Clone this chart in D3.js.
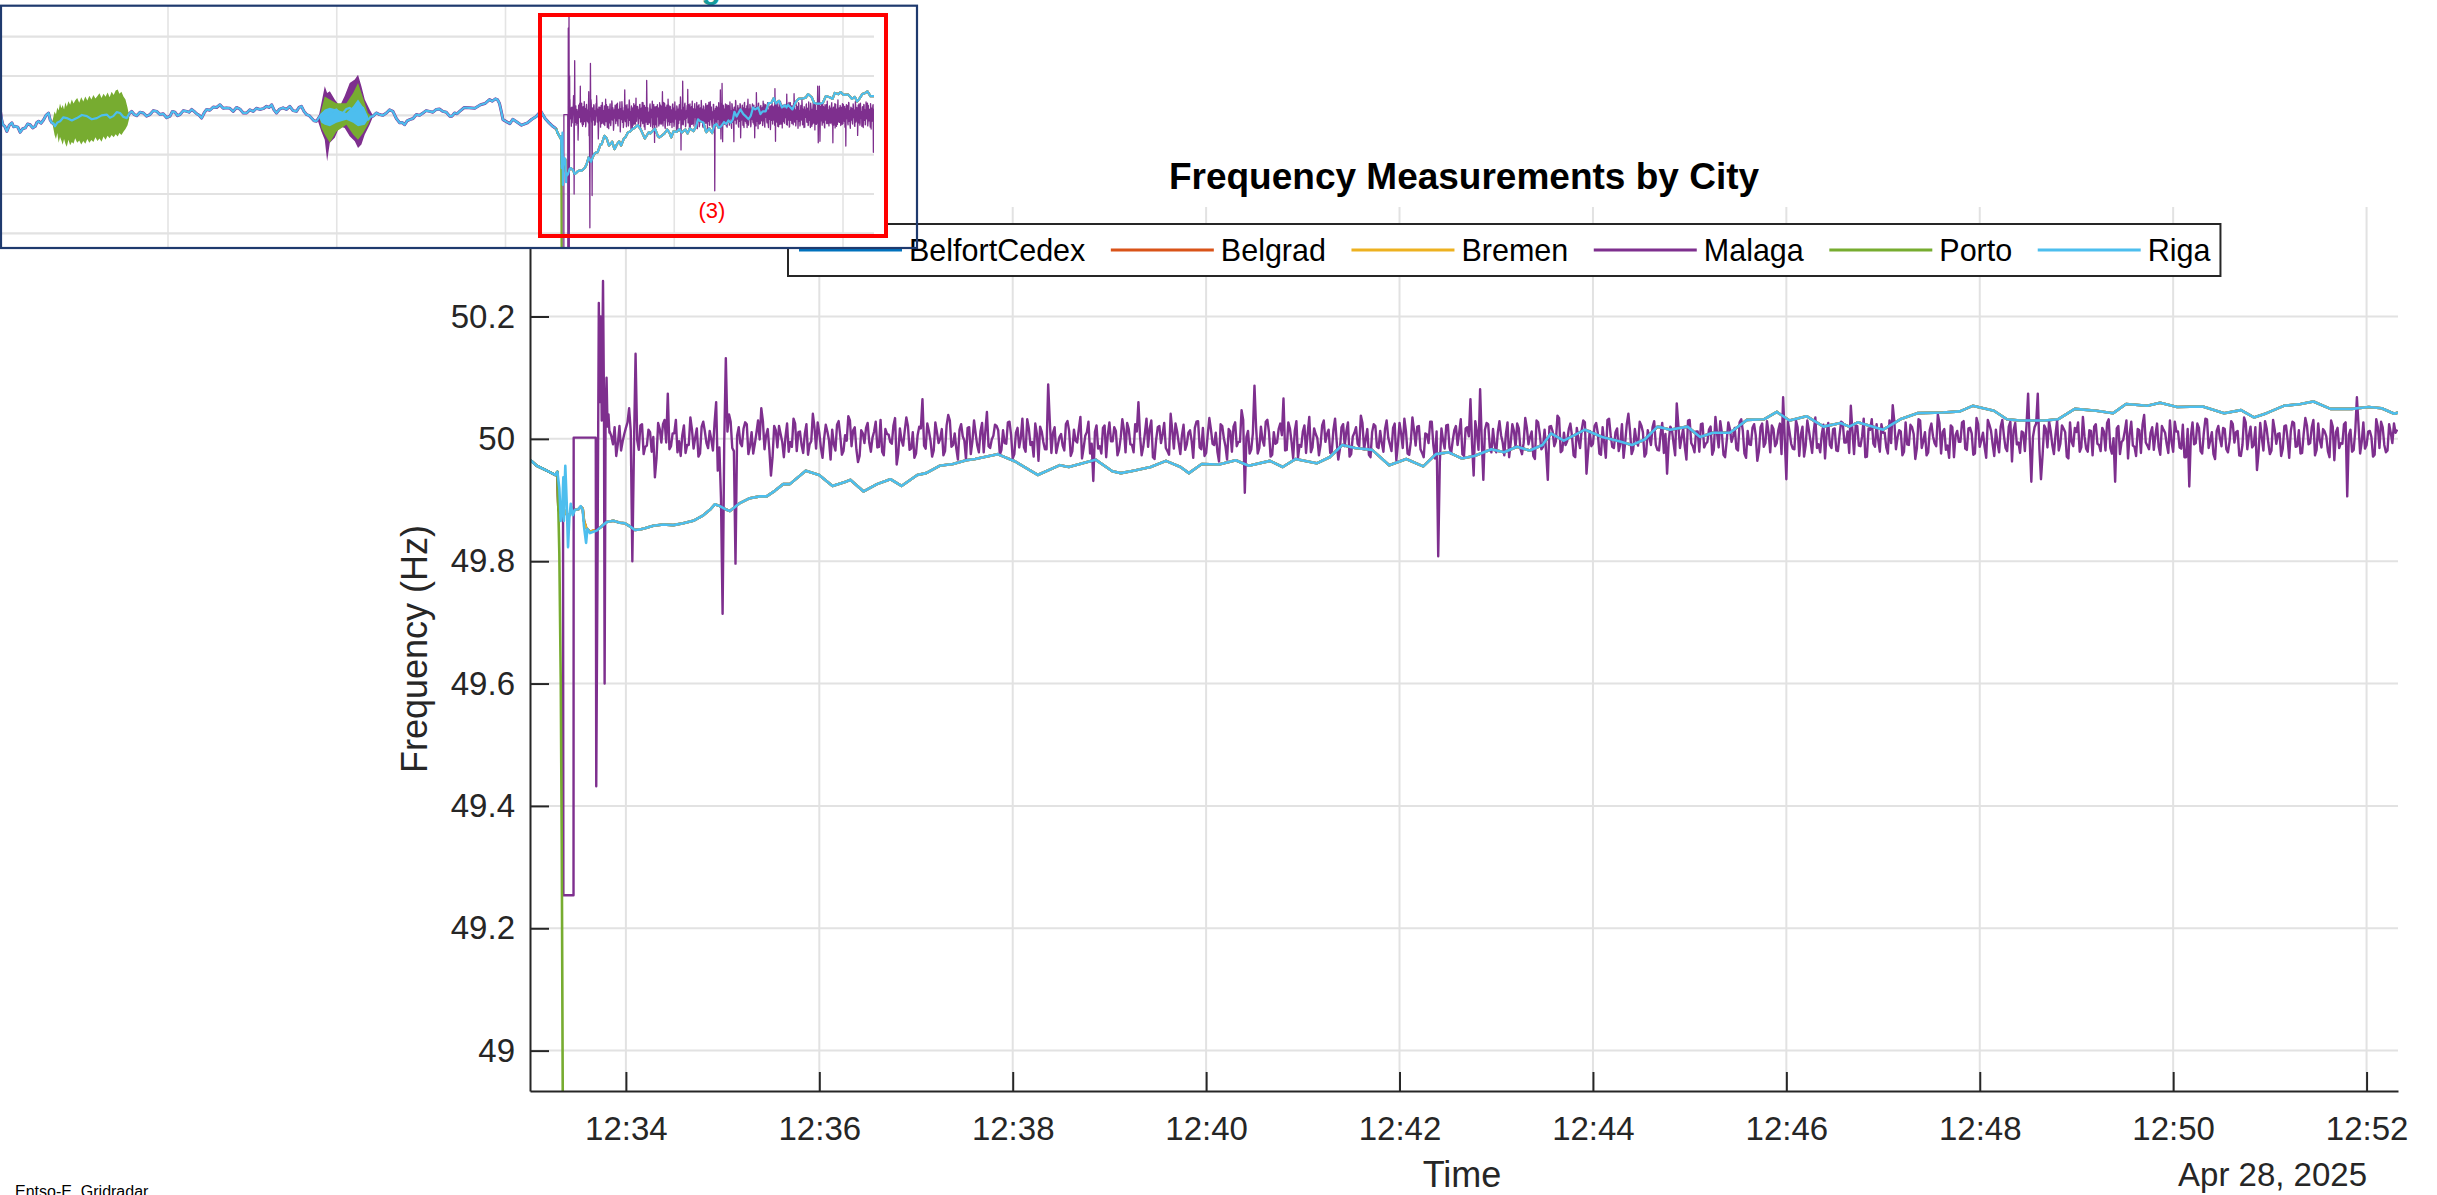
<!DOCTYPE html>
<html><head><meta charset="utf-8">
<script src="https://cdn.jsdelivr.net/npm/d3@7"></script>
<style>
body{margin:0;background:#fff}
svg{display:block}
text{font-family:"Liberation Sans",Arial,Helvetica,sans-serif}
</style>
</head><body>
<svg id="chart" width="2437" height="1195"></svg>
<script>
// ---------------- DATA ----------------
const cities = ["BelfortCedex","Belgrad","Bremen","Malaga","Porto","Riga"];
const cityColors = ["#0072BD","#D95319","#EDB120","#7E2F8E","#77AC30","#4DBEEE"];
const yTickValues = [49, 49.2, 49.4, 49.6, 49.8, 50, 50.2];
const xTickLabels = ["12:34","12:36","12:38","12:40","12:42","12:44","12:46","12:48","12:50","12:52"];
const dateLabel = "Apr 28, 2025";
const titleText = "Frequency Measurements by City";
const sourceText = "Entso-E, Gridradar";

// Continental grid (BelfortCedex, Belgrad, Bremen overlap): seconds after 12:33:00, Hz
const gridSec = [0.5,4.7,10.9,16.1,17.5,18.1,19.6,21.2,22.4,23.3,24.9,27.0,28.4,30.5,32.0,33.2,34.0,35.3,37.7,39.8,41.9,45.0,48.1,52.2,56.3,59.4,62.5,65.6,68.7,71.8,77.0,83.2,89.4,95.6,101.8,108.0,112.1,115.2,118.3,122.5,124.5,130.7,136.9,143.1,147.3,152.4,157.6,161.7,171.6,179.9,188.2,196.4,199.2,207.5,215.8,224.1,231.0,240.8,246.3,254.6,262.9,271.2,276.7,290.6,301.6,315.5,329.3,334.8,351.4,361.8,367.1,375.0,385.6,395.1,404.1,409.3,417.3,427.9,438.4,446.4,459.6,467.5,475.4,488.6,496.6,504.5,512.4,523.0,533.6,544.2,554.7,562.6,570.6,578.5,586.4,597.0,604.9,612.8,620.8,628.7,634.0,641.9,655.1,665.7,676.3,684.2,692.1,700.1,708.0,718.6,726.5,734.4,745.0,755.6,766.1,774.1,782.0,792.5,803.1,813.7,819.0,824.3,840.1,850.7,861.3,877.2,887.7,895.6,908.8,916.8,924.7,940.6,948.5,959.0,972.3,982.8,990.8,1004.0,1011.9,1022.5,1038.3,1051.6,1062.1,1070.1,1078.0,1088.6,1099.1,1107.0,1117.6,1130.8,1141.4,1149.3,1157.2,1159.5];
const gridHz = [49.966,49.956,49.948,49.941,49.946,49.884,49.879,49.873,49.882,49.878,49.875,49.887,49.884,49.885,49.889,49.886,49.866,49.855,49.848,49.850,49.851,49.857,49.864,49.866,49.863,49.862,49.857,49.851,49.852,49.854,49.858,49.860,49.859,49.862,49.866,49.875,49.884,49.893,49.890,49.884,49.882,49.895,49.903,49.906,49.906,49.915,49.926,49.926,49.948,49.941,49.923,49.930,49.933,49.914,49.926,49.934,49.923,49.941,49.944,49.956,49.959,49.965,49.967,49.975,49.963,49.941,49.957,49.954,49.966,49.947,49.944,49.948,49.954,49.964,49.954,49.944,49.959,49.958,49.965,49.956,49.964,49.954,49.967,49.960,49.970,49.990,49.985,49.982,49.957,49.967,49.955,49.975,49.978,49.968,49.972,49.983,49.978,49.987,49.981,49.990,50.009,49.997,50.015,50.003,49.996,49.990,49.999,50.020,50.015,50.020,50.003,50.010,50.010,50.031,50.032,50.044,50.030,50.037,50.020,50.026,50.020,50.027,50.015,50.032,50.042,50.043,50.045,50.054,50.046,50.032,50.030,50.030,50.032,50.049,50.046,50.042,50.057,50.054,50.059,50.052,50.053,50.042,50.047,50.035,50.042,50.054,50.057,50.061,50.049,50.049,50.052,50.050,50.041,50.043];

// Riga: its own early oscillation, then on the continental curve
const rigaEarlySec = [0.5,4.7,10.9,16.1,17.5,18.7,19.6,20.6,21.2,21.5,21.8,22.4,23.3,24.1,24.9,25.8,27.0,28.4,30.5,32.0,33.2,34.0,35.3,36.1,37.7,39.8,41.9];
const rigaEarlyHz = [49.966,49.956,49.948,49.941,49.946,49.919,49.866,49.893,49.937,49.866,49.906,49.956,49.893,49.823,49.870,49.894,49.875,49.884,49.885,49.890,49.884,49.857,49.830,49.853,49.846,49.848,49.850];

// Porto: drops out of range
const portoSec = [0.5,4.7,10.9,16.1,17.5,18.1,18.7,19.6,20.2,20.8,21.4];
const portoHz = [49.966,49.956,49.948,49.941,49.946,49.884,49.813,49.600,49.335,48.940,48.500];

// Malaga: early event, then noisy signal sampled every second from 12:33:50
const malagaEarlySec = [0.5,4.7,10.9,16.1,17.5,18.1,19.6,21.0,21.2,27.5,27.6,41.3,41.6,42.4,43.2,43.8,44.4,45.0,45.8,46.4,46.8,47.4,48.0,48.6,49.2,49.8];
const malagaEarlyHz = [49.966,49.956,49.948,49.941,49.946,49.884,49.879,49.875,49.254,49.254,50.002,50.002,49.432,49.800,50.222,50.060,50.200,50.030,50.258,50.060,49.600,50.040,50.100,50.020,50.040,50.010];
const malagaEvenStartSec = 50;   // samples at 50, 52, 54 ... s
const malagaOddStartSec = 51;    // samples at 51, 53, 55 ... s
const malagaStepSec = 2;
const malagaEvenHz = [
50.012,49.991,49.972,50.021,49.996,50.018,50.050,49.800,50.139,49.982,50.024,49.987,50.015,49.979,49.937,50.026,49.994,50.031,50.074,49.988,
50.009,49.978,49.972,50.022,49.990,50.035,49.984,50.017,49.976,50.028,49.993,50.013,49.981,50.060,49.986,49.714,50.132,50.040,49.985,49.796,
50.019,49.988,50.027,49.975,50.011,49.992,50.030,50.050,49.983,50.016,49.940,50.021,49.986,50.008,49.970,50.025,49.995,50.033,49.980,50.012,
49.977,50.024,49.991,50.041,49.984,50.010,49.969,50.023,49.998,50.015,49.981,50.029,49.974,50.006,50.037,49.988,50.019,49.962,50.014,49.993,
50.026,49.979,50.012,49.986,50.031,49.973,50.008,49.995,50.022,49.958,50.017,49.989,50.035,49.982,50.011,49.976,50.020,50.065,49.984,50.013,
49.971,50.027,49.993,50.016,49.980,50.039,49.987,50.009,49.966,50.024,49.997,50.018,49.975,50.030,49.989,50.012,49.978,50.044,49.985,50.005,
50.021,49.974,50.014,49.992,50.028,49.968,50.010,49.986,50.033,49.979,50.017,49.995,50.025,49.964,50.012,49.983,50.089,49.977,50.019,49.990,
50.008,49.981,50.029,49.972,50.015,49.994,50.036,49.985,50.011,49.976,49.931,50.022,49.988,50.018,49.970,50.027,49.996,50.013,49.982,50.032,
49.978,50.016,49.990,50.024,50.060,49.973,50.009,49.987,50.030,49.967,50.019,49.993,50.026,49.980,50.041,49.984,50.012,49.975,50.023,49.991,
50.014,49.969,50.028,49.986,50.018,49.977,50.034,49.992,50.010,49.963,50.021,49.988,50.016,49.979,50.027,49.995,50.047,49.912,50.013,49.983,
50.087,49.976,50.020,49.989,50.031,49.971,50.011,49.994,50.025,50.066,49.982,50.017,49.968,50.029,49.990,50.012,49.977,50.036,49.986,50.008,
49.973,50.022,49.995,50.015,49.980,50.033,49.966,50.019,49.988,50.027,49.975,50.010,49.992,50.038,49.983,50.016,49.970,50.024,49.987,50.013,
49.979,50.030,49.991,50.018,49.965,50.026,49.985,50.012,49.974,50.035,49.989,50.021,49.977,50.009,49.993,50.028,49.968,49.808,50.017,49.984,
50.023,49.976,50.014,49.990,50.032,49.972,50.019,50.065,49.940,50.011,50.081,49.933,50.026,49.987,50.016,49.978,50.029,49.994,50.008,49.970,
50.024,49.986,50.017,49.975,50.034,49.991,50.012,49.967,50.027,49.983,50.015,49.933,50.021,49.988,50.038,49.978,50.010,49.996,50.025,49.973,
50.018,49.985,50.030,49.943,50.013,49.992,50.026,49.976,50.019,49.969,50.033,49.987,50.011,49.980,50.024,49.994,50.041,49.975,50.016,49.989,
50.022,49.971,50.014,49.990,50.029,49.982,50.009,49.977,49.943,50.020,49.993,50.058,49.985,50.017,49.966,50.031,49.988,50.012,49.979,50.025,
49.992,50.015,49.974,50.036,49.986,50.010,49.970,50.027,49.995,50.018,49.981,50.032,49.976,50.013,49.990,50.024,49.964,50.019,49.987,50.029,
49.978,50.016,49.993,50.025,50.068,49.934,50.011,49.984,50.030,49.972,50.020,49.989,50.014,49.977,50.035,49.991,50.008,49.968,50.026,49.985,
50.017,49.980,50.028,49.994,50.012,50.054,49.975,50.021,49.988,50.033,49.971,50.015,49.992,50.024,49.979,50.010,49.986,50.030,50.055,49.983,
50.014,49.973,50.027,49.990,50.019,49.967,50.032,49.985,50.011,49.978,50.025,49.993,50.040,49.976,50.016,49.989,50.022,49.970,50.013,49.995,
50.029,49.982,50.018,49.974,50.034,49.987,50.010,49.969,50.023,49.991,50.015,49.978,50.031,49.985,50.020,49.963,50.026,49.994,50.012,49.980,
50.074,49.930,50.019,50.074,49.934,50.022,49.986,50.013,49.975,50.030,49.992,50.017,49.971,50.027,49.988,50.011,49.979,50.036,49.984,50.014,
49.973,50.024,49.990,50.018,49.981,50.032,49.976,49.930,50.021,49.995,50.013,49.968,50.028,49.987,50.016,49.977,50.039,49.989,50.010,49.982,
50.025,49.974,50.015,49.991,50.030,49.979,50.012,49.986,50.023,49.970,49.922,50.027,49.993,50.018,49.976,50.033,49.985,50.011,49.967,50.021,
49.988,50.016,49.978,50.029,49.994,50.013,49.972,50.035,49.983,50.020,49.990,49.949,50.026,49.981,50.017,49.975,50.031,49.992,50.009,49.984,
50.022,49.969,50.028,49.987,50.014,49.977,50.034,49.991,50.019,49.973,50.025,49.986,50.012,49.980,50.030,49.965,50.018,49.993,50.024,49.906,
50.015,49.982,50.068,49.976,50.027,49.990,50.013,49.971,50.032,49.985,50.019,49.978,50.024,49.993,50.010];
const malagaOddHz = [
50.004,50.019,49.992,49.981,50.008,50.027,50.013,49.986,49.998,50.022,49.975,49.989,50.011,50.003,49.968,50.016,50.024,49.994,49.983,50.009,
50.031,49.996,50.006,49.977,49.990,50.015,50.002,49.971,50.020,50.012,49.985,49.999,50.026,49.948,49.902,49.991,50.012,50.028,49.980,50.005,
49.993,50.017,50.024,49.988,49.976,50.010,49.999,50.029,50.006,49.982,49.970,50.014,50.021,49.995,50.003,49.979,49.987,50.025,50.011,49.990,
50.008,49.974,49.996,50.019,50.027,49.985,50.001,50.012,49.966,49.991,50.023,50.005,49.980,49.997,50.030,50.014,49.983,49.972,50.009,50.018,
49.994,50.002,50.028,49.987,49.979,50.016,50.007,49.992,50.034,49.976,49.998,50.013,50.021,49.984,49.969,50.006,50.017,49.989,50.025,49.997,
49.981,50.011,50.000,49.973,50.022,50.030,49.990,49.984,50.015,50.004,49.967,50.019,49.996,50.009,49.978,50.026,50.012,49.988,49.999,50.023,
50.014,49.982,49.993,50.027,50.006,49.975,50.018,50.001,49.986,50.032,49.990,49.971,50.008,50.020,49.995,49.983,50.029,50.010,49.977,50.003,
49.989,50.024,50.013,49.980,49.997,50.016,49.968,50.005,50.028,49.992,50.011,49.984,49.976,50.022,50.007,49.996,50.019,49.973,50.002,50.015,
50.026,49.991,49.978,50.012,50.004,49.987,50.033,50.017,49.970,49.999,50.021,50.008,49.985,49.974,50.014,50.025,49.993,50.006,49.982,50.010,
49.997,50.018,50.029,49.983,49.972,50.007,50.015,49.990,49.979,50.024,50.001,49.966,50.012,50.020,49.988,49.995,50.031,50.003,49.976,50.009,
50.019,49.985,49.998,50.028,50.011,49.974,49.992,50.016,50.006,49.981,50.027,49.995,50.013,49.969,49.987,50.022,50.009,49.978,50.017,50.001,
49.990,50.030,50.008,49.977,50.015,49.996,49.983,50.024,50.012,49.971,50.004,50.019,49.988,50.026,49.999,49.974,50.011,50.021,49.985,49.993,
50.016,50.002,49.980,50.025,49.991,50.009,50.033,49.976,49.995,50.014,50.020,49.983,49.970,50.007,50.028,49.989,50.012,49.962,49.998,50.022,
49.986,49.997,50.021,50.010,49.975,50.017,50.004,49.991,50.029,49.982,49.999,50.015,50.024,49.978,49.990,50.011,50.006,49.973,50.027,49.994,
50.013,50.025,49.984,49.993,50.018,50.003,49.972,50.030,50.008,49.987,49.977,50.020,50.012,49.996,50.034,49.981,49.990,50.016,50.005,49.970,
49.999,50.014,50.027,49.979,49.988,50.021,50.010,49.974,49.994,50.031,50.006,49.985,50.017,49.992,49.969,50.024,50.013,49.983,49.997,50.028,
50.011,49.976,50.003,50.019,49.990,49.981,50.026,50.008,49.995,50.015,49.973,50.022,50.002,49.987,50.030,49.993,49.978,50.012,50.024,49.986,
49.995,50.020,49.982,50.009,50.029,49.974,49.997,50.016,50.005,49.984,50.027,50.013,49.969,49.991,50.018,50.006,49.980,50.025,49.993,50.010,
50.022,49.988,50.014,49.975,50.001,50.028,49.992,49.983,50.019,50.007,49.971,50.030,49.996,50.012,49.985,49.978,50.023,50.009,49.990,50.016,
49.981,50.006,50.026,49.994,49.977,50.013,50.021,49.989,50.004,49.970,50.017,50.032,49.987,49.998,50.024,50.010,49.976,49.993,50.028,50.002,
50.012,49.979,49.991,50.023,50.008,49.985,50.030,49.996,49.973,50.015,50.004,49.988,50.026,50.011,49.982,49.969,50.019,50.006,49.995,50.027,
49.984,50.017,50.009,49.976,50.024,49.998,49.987,50.031,50.013,49.972,49.993,50.020,50.005,49.980,50.028,50.014,49.991,49.977,50.010,50.022,
49.996,50.003,50.025,49.983,49.974,50.016,50.029,49.990,50.007,49.981,50.022,50.011,49.968,49.995,50.018,50.027,49.986,50.004,49.979,50.013,
50.020,49.992,49.980,50.012,50.026,49.985,50.001,50.017,49.975,49.998,50.030,50.008,49.989,49.972,50.014,50.023,49.994,49.983,50.019,50.006,
49.987,50.021,50.010,49.977,49.995,50.028,50.012,49.984,49.970,50.016,50.005,49.991,50.025,49.980,50.009,50.032,49.997,49.975,50.013,50.001,
50.018,49.983,49.996,50.024,50.011,49.973,49.990,50.027,50.006,49.986,50.019,49.978,50.002,50.029,49.994,49.981,50.015,50.008,49.972,50.021,
49.999,50.013,50.026,49.988,49.976,50.009,50.022,49.993,50.031,49.982,49.997,50.016,50.004,49.970,50.020,50.011,49.985,49.992,50.027,50.006,
49.979,50.014,50.023,49.995,49.984,50.012,50.003,49.974,50.019,50.028,49.990,49.981,50.010,50.025,50.015];

// Inset overview (minutes after 12:00): grid frequency before the event
const insetMin = [0.06,0.14,0.22,0.33,0.45,0.60,0.75,0.85,0.95,1.10,1.24,1.39,1.54,1.68,1.83,1.98,2.13,2.23,2.33,2.47,2.62,2.77,2.92,3.02,3.12,3.21,3.30,3.45,3.61,3.80,4.00,4.30,4.60,4.90,5.19,5.48,5.78,6.07,6.37,6.56,6.76,6.96,7.16,7.36,7.56,7.70,7.85,8.00,8.15,8.34,8.54,8.73,8.93,9.13,9.33,9.52,9.72,9.92,10.12,10.26,10.41,10.56,10.71,10.91,11.11,11.25,11.40,11.55,11.70,11.85,11.99,12.14,12.29,12.48,12.68,12.88,13.08,13.27,13.47,13.66,13.86,14.06,14.26,14.46,14.66,14.85,15.05,15.24,15.44,15.64,15.84,15.99,16.14,16.28,16.43,16.62,16.82,17.02,17.22,17.41,17.61,17.76,17.91,18.06,18.21,18.35,18.50,18.65,18.80,19.00,19.19,19.39,19.59,19.78,19.98,20.17,20.37,20.57,20.77,20.97,21.17,21.36,21.56,21.70,21.85,22.00,22.15,22.34,22.54,22.74,22.94,23.13,23.33,23.53,23.73,23.87,24.02,24.17,24.32,24.52,24.72,24.91,25.11,25.30,25.50,25.70,25.90,26.09,26.29,26.49,26.69,26.83,26.98,27.13,27.28,27.56,27.84,28.18,28.52,28.78,29.05,29.22,29.40,29.52,29.64,29.75,29.85,30.05,30.26,30.43,30.61,30.95,31.30,31.56,31.82,31.96,32.10,32.35,32.60,32.80,33.00];
const insetHz = [50.014,49.990,49.976,49.972,49.959,49.975,49.981,49.971,49.972,49.970,49.957,49.966,49.968,49.978,49.976,49.968,49.972,49.982,49.985,49.980,49.988,50.000,50.006,49.988,49.981,49.980,49.972,49.982,49.985,49.995,49.993,49.987,49.993,50.001,49.998,49.990,49.993,50.000,50.002,49.994,49.998,50.008,50.006,49.996,49.993,50.004,50.010,50.002,49.999,50.008,50.006,49.998,50.002,50.012,50.010,50.002,50.004,49.994,49.998,50.010,50.008,49.999,50.002,50.012,50.010,50.008,50.015,50.010,50.004,50.000,49.993,50.006,50.015,50.013,50.021,50.020,50.027,50.018,50.019,50.018,50.010,50.020,50.016,50.006,50.006,50.014,50.010,50.018,50.015,50.017,50.023,50.020,50.027,50.014,50.006,50.016,50.019,50.015,50.023,50.012,50.010,50.020,50.023,50.010,50.002,50.000,49.993,49.986,49.985,49.998,50.006,49.998,50.002,50.012,50.015,50.006,50.006,50.016,50.019,50.012,50.015,50.021,50.019,50.000,49.989,49.996,49.998,50.006,50.002,50.000,50.006,50.014,50.010,49.992,49.981,49.982,49.976,49.986,49.989,49.992,50.002,50.000,50.006,50.012,50.010,50.008,50.015,50.016,50.010,50.008,49.998,49.998,50.006,50.004,50.010,50.020,50.019,50.018,50.027,50.030,50.040,50.036,50.042,50.040,50.031,50.010,49.989,49.984,49.979,49.990,49.985,49.975,49.981,49.990,49.997,50.004,50.010,49.992,49.980,49.972,49.966];
// Inset oscillation envelopes (minutes after 12:00, upper Hz, lower Hz)
const portoBurst1Min = [3.15,3.28,3.36,3.44,3.52,3.60,3.68,3.76,3.84,3.92,4.00,4.10,4.20,4.30,4.40,4.50,4.62,4.74,4.86,4.98,5.10,5.22,5.34,5.46,5.58,5.70,5.82,5.94,6.06,6.18,6.30,6.42,6.54,6.66,6.78,6.90,7.02,7.12,7.24,7.36,7.48,7.60,7.70];
const portoBurst1Hi = [49.985,50.010,50.002,50.020,50.012,50.030,50.018,50.026,50.015,50.033,50.022,50.036,50.027,50.040,50.030,50.038,50.044,50.032,50.046,50.035,50.048,50.038,50.050,50.040,50.052,50.043,50.049,50.056,50.044,50.055,50.047,50.058,50.046,50.060,50.052,50.063,50.066,50.055,50.060,50.048,50.040,50.020,49.998];
const portoBurst1Lo = [49.980,49.950,49.940,49.955,49.930,49.945,49.936,49.925,49.940,49.928,49.920,49.938,49.924,49.932,49.928,49.942,49.930,49.936,49.926,49.935,49.928,49.940,49.930,49.937,49.932,49.944,49.935,49.941,49.933,49.946,49.938,49.948,49.942,49.950,49.944,49.952,49.946,49.955,49.950,49.958,49.965,49.975,49.992];
const malagaBurstMin = [18.89,19.09,19.29,19.43,19.59,19.88,20.18,20.47,20.77,21.07,21.26,21.46,21.66,21.95,22.15];
const malagaBurstHi = [49.989,50.031,50.074,50.057,50.061,50.040,50.023,50.049,50.082,50.091,50.103,50.074,50.040,50.015,49.999];
const malagaBurstLo = [49.985,49.959,49.938,49.883,49.930,49.943,49.972,49.968,49.947,49.934,49.917,49.926,49.951,49.976,49.997];
const portoBurst2Min = [19.00,19.09,19.29,19.59,19.98,20.57,20.97,21.26,21.56,21.85,22.00];
const portoBurst2Hi = [50.000,50.015,50.048,50.040,50.031,50.031,50.057,50.082,50.044,50.006,50.000];
const portoBurst2Lo = [49.990,49.968,49.951,49.930,49.959,49.976,49.951,49.938,49.955,49.976,49.990];
const gridBurstMin = [19.00,19.09,19.29,19.59,19.98,20.57,20.97,21.26,21.66,21.85];
const gridBurstHi = [50.003,50.006,50.015,50.019,50.015,50.006,50.023,50.040,50.015,49.998];
const gridBurstLo = [49.990,49.981,49.976,49.972,49.981,49.989,49.981,49.972,49.976,49.989];
const insetYTicks = [49.7, 49.8, 49.9, 50.0, 50.1, 50.2];
const insetXTickMin = [10, 20, 30, 40, 50];
const insetMark = "(3)";

// ---------------- HELPERS ----------------
const base = new Date(2025, 3, 28, 12, 33, 0).getTime();
const sec = s => new Date(base + s * 1000);
const noon = new Date(2025, 3, 28, 12, 0, 0).getTime();
const mins = m => new Date(noon + m * 60000);
const hm = s => { const [h, m] = s.split(":").map(Number); return new Date(2025, 3, 28, h, m, 0); };

const pts = (ts, vs, f) => ts.map((t, i) => ({ t: f(t), v: vs[i] }));
const gridPts = pts(gridSec, gridHz, sec);
const rigaLast = rigaEarlySec[rigaEarlySec.length - 1];
const malagaNoise = malagaEvenHz.map((v, i) => ({ s: malagaEvenStartSec + i * malagaStepSec, v }))
  .concat(malagaOddHz.map((v, i) => ({ s: malagaOddStartSec + i * malagaStepSec, v })))
  .sort((a, b) => a.s - b.s).map(d => ({ t: sec(d.s), v: d.v }));
const seriesData = {
  BelfortCedex: gridPts,
  Belgrad: gridPts,
  Bremen: gridPts,
  Malaga: pts(malagaEarlySec, malagaEarlyHz, sec).concat(malagaNoise),
  Porto: pts(portoSec, portoHz, sec),
  Riga: pts(rigaEarlySec, rigaEarlyHz, sec).concat(gridPts.filter((d, i) => gridSec[i] > rigaLast))
};

// ---------------- MAIN CHART ----------------
const svg = d3.select("#chart");
svg.append("rect").attr("width", 2437).attr("height", 1195).attr("fill", "#fff");

const L = 530, R = 2398, TOP = 207, B = 1091;
const x = d3.scaleTime().domain([sec(0.5), sec(1159.5)]).range([L, R]);
const y = d3.scaleLinear().domain([48.934, 50.379]).range([B, TOP]);
const xTicks = xTickLabels.map(hm);
const axisColor = "#262626";

const defs = svg.append("defs");
defs.append("clipPath").attr("id", "plotClip").append("rect")
  .attr("x", L).attr("y", TOP).attr("width", R - L).attr("height", B - TOP);

// grid
const grid = svg.append("g");
grid.selectAll(".vg").data(xTicks).join("line")
  .attr("x1", d => x(d)).attr("x2", d => x(d)).attr("y1", TOP).attr("y2", B)
  .attr("stroke", "#e2e2e2").attr("stroke-width", 2);
grid.selectAll(".hg").data(yTickValues).join("line")
  .attr("x1", L).attr("x2", R).attr("y1", d => y(d)).attr("y2", d => y(d))
  .attr("stroke", "#e2e2e2").attr("stroke-width", 2);

// lines
const line = d3.line().x(d => x(d.t)).y(d => y(d.v));
const plot = svg.append("g").attr("clip-path", "url(#plotClip)");
cities.forEach((c, i) => {
  plot.append("path").datum(seriesData[c]).attr("d", line)
    .attr("fill", "none").attr("stroke", cityColors[i])
    .attr("stroke-width", c === "Malaga" ? 2.4 : 2.6)
    .attr("stroke-linejoin", "round");
});

// axes
const xAxis = d3.axisBottom(x).tickValues(xTicks).tickFormat(d3.timeFormat("%H:%M"))
  .tickSizeInner(-19).tickSizeOuter(0).tickPadding(26);
const gx = svg.append("g").attr("transform", `translate(0,${B})`).call(xAxis);
const yAxis = d3.axisLeft(y).tickValues(yTickValues).tickFormat(d3.format("~g"))
  .tickSizeInner(-19).tickSizeOuter(0).tickPadding(15);
const gy = svg.append("g").attr("transform", `translate(${L},0)`).call(yAxis);
[gx, gy].forEach(g => {
  g.select(".domain").attr("stroke", axisColor).attr("stroke-width", 2);
  g.selectAll(".tick line").attr("stroke", axisColor).attr("stroke-width", 2);
  g.selectAll(".tick text").attr("fill", axisColor).attr("font-size", 33)
    .attr("font-family", '"Liberation Sans",Arial,sans-serif');
});

// labels
svg.append("text").attr("x", 1464).attr("y", 189).attr("text-anchor", "middle")
  .attr("font-size", 37).attr("font-weight", "bold").attr("fill", "#000").text(titleText);
svg.append("text").attr("transform", "translate(427,649) rotate(-90)").attr("text-anchor", "middle")
  .attr("font-size", 36).attr("fill", axisColor).text("Frequency (Hz)");
svg.append("text").attr("x", 1462).attr("y", 1187).attr("text-anchor", "middle")
  .attr("font-size", 36).attr("fill", axisColor).text("Time");
svg.append("text").attr("x", 2367).attr("y", 1186).attr("text-anchor", "end")
  .attr("font-size", 33).attr("fill", axisColor).text(dateLabel);
svg.append("text").attr("x", 15).attr("y", 1197)
  .attr("font-size", 16).attr("fill", "#000").text(sourceText);

// legend
const leg = svg.append("g");
const legBox = leg.append("rect").attr("x", 788).attr("y", 224).attr("height", 52)
  .attr("fill", "#fff").attr("stroke", axisColor).attr("stroke-width", 2);
let lx = 799;
cities.forEach((c, i) => {
  leg.append("line").attr("x1", lx).attr("x2", lx + 103).attr("y1", 250).attr("y2", 250)
    .attr("stroke", cityColors[i]).attr("stroke-width", 3);
  const t = leg.append("text").attr("x", lx + 110).attr("y", 261).attr("font-size", 30.5)
    .attr("fill", "#000").text(c);
  const w = t.node().getComputedTextLength();
  lx = lx + 110 + w + 25.5;
  if (i === cities.length - 1) legBox.attr("width", (lx - 25.5 + 10) - 788);
});

// ---------------- INSET OVERVIEW ----------------
const ins = svg.append("g");
ins.append("rect").attr("x", 0).attr("y", 0).attr("width", 887).attr("height", 248).attr("fill", "#fff");
ins.append("text").attr("x", 711).attr("y", -2.5).attr("text-anchor", "middle")
  .attr("font-size", 32).attr("font-weight", "bold").attr("fill", "#179c9c").text("g");

const ix = d3.scaleTime().domain([mins(10), mins(50)]).range([168, 843]);
const iy = d3.scaleLinear().domain([49.7, 50.2]).range([233.3, 36.7]);
const IR = 874, IT = 5.7, IB = 248;
defs.append("clipPath").attr("id", "insetClip").append("rect")
  .attr("x", 0).attr("y", IT).attr("width", IR).attr("height", IB - IT);

ins.selectAll(".ivg").data(insetXTickMin).join("line")
  .attr("x1", d => ix(mins(d))).attr("x2", d => ix(mins(d))).attr("y1", IT).attr("y2", IB)
  .attr("stroke", "#e4e4e4").attr("stroke-width", 1.6);
ins.selectAll(".ihg").data(insetYTicks).join("line")
  .attr("x1", 0).attr("x2", IR).attr("y1", d => iy(d)).attr("y2", d => iy(d))
  .attr("stroke", "#e2e2e2").attr("stroke-width", 2.2);

const ig = ins.append("g").attr("clip-path", "url(#insetClip)");
const iline = d3.line().x(d => ix(d.t)).y(d => iy(d.v));
const iarea = d3.area().x(d => ix(d.t)).y0(d => iy(d.lo)).y1(d => iy(d.hi));
const band = (ms, hi, lo) => ms.map((m, i) => ({ t: mins(m), hi: hi[i], lo: lo[i] }));
const insetPts = pts(insetMin, insetHz, mins);

ig.append("path").datum(insetPts).attr("d", iline)
  .attr("fill", "none").attr("stroke", cityColors[3]).attr("stroke-width", 3).attr("stroke-linejoin", "round");
ig.append("path").datum(band(portoBurst1Min, portoBurst1Hi, portoBurst1Lo)).attr("d", iarea)
  .attr("fill", cityColors[4]);
ig.append("path").datum(band(malagaBurstMin, malagaBurstHi, malagaBurstLo)).attr("d", iarea)
  .attr("fill", cityColors[3]);
ig.append("path").datum(band(portoBurst2Min, portoBurst2Hi, portoBurst2Lo)).attr("d", iarea)
  .attr("fill", cityColors[4]);
ig.append("path").datum(band(gridBurstMin, gridBurstHi, gridBurstLo)).attr("d", iarea)
  .attr("fill", cityColors[5]);
ig.append("path").datum(insetPts).attr("d", iline)
  .attr("fill", "none").attr("stroke", cityColors[5]).attr("stroke-width", 2.2).attr("stroke-linejoin", "round");
cities.forEach((c, i) => {
  ig.append("path").datum(seriesData[c]).attr("d", iline)
    .attr("fill", "none").attr("stroke", cityColors[i])
    .attr("stroke-width", c === "Malaga" ? 1.3 : 2.2).attr("stroke-linejoin", "round");
});

ins.append("rect").attr("x", 540).attr("y", 15).attr("width", 346).attr("height", 221)
  .attr("fill", "none").attr("stroke", "#ff0000").attr("stroke-width", 4);
ins.append("text").attr("x", 712).attr("y", 218).attr("text-anchor", "middle")
  .attr("font-size", 22).attr("fill", "#ff0000").text(insetMark);

svg.append("rect").attr("x", 1).attr("y", IT).attr("width", 916).attr("height", IB - IT)
  .attr("fill", "none").attr("stroke", "#1f3a6e").attr("stroke-width", 2.2);
</script>
</body></html>
